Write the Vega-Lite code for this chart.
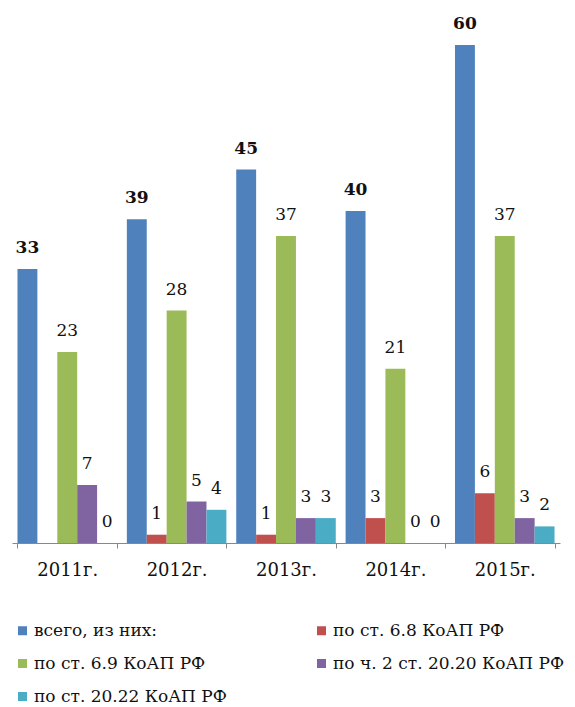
{
  "$schema": "https://vega.github.io/schema/vega-lite/v6.json",
  "width": 548,
  "height": 498,
  "autosize": {"type": "none"},
  "padding": {"left": 12, "top": 45, "right": 15, "bottom": 164},
  "background": "white",
  "config": {"view": {"stroke": null}, "font": "DejaVu Serif"},
  "data": {
    "values": [
      {"year": "2011г.", "series": "всего, из них:", "value": 33},
      {"year": "2011г.", "series": "по ст. 6.9 КоАП РФ", "value": 23},
      {"year": "2011г.", "series": "по ч. 2 ст. 20.20 КоАП РФ", "value": 7},
      {"year": "2011г.", "series": "по ст. 20.22 КоАП РФ", "value": 0},
      {"year": "2012г.", "series": "всего, из них:", "value": 39},
      {"year": "2012г.", "series": "по ст. 6.8 КоАП РФ", "value": 1},
      {"year": "2012г.", "series": "по ст. 6.9 КоАП РФ", "value": 28},
      {"year": "2012г.", "series": "по ч. 2 ст. 20.20 КоАП РФ", "value": 5},
      {"year": "2012г.", "series": "по ст. 20.22 КоАП РФ", "value": 4},
      {"year": "2013г.", "series": "всего, из них:", "value": 45},
      {"year": "2013г.", "series": "по ст. 6.8 КоАП РФ", "value": 1},
      {"year": "2013г.", "series": "по ст. 6.9 КоАП РФ", "value": 37},
      {"year": "2013г.", "series": "по ч. 2 ст. 20.20 КоАП РФ", "value": 3},
      {"year": "2013г.", "series": "по ст. 20.22 КоАП РФ", "value": 3},
      {"year": "2014г.", "series": "всего, из них:", "value": 40},
      {"year": "2014г.", "series": "по ст. 6.8 КоАП РФ", "value": 3},
      {"year": "2014г.", "series": "по ст. 6.9 КоАП РФ", "value": 21},
      {"year": "2014г.", "series": "по ч. 2 ст. 20.20 КоАП РФ", "value": 0},
      {"year": "2014г.", "series": "по ст. 20.22 КоАП РФ", "value": 0},
      {"year": "2015г.", "series": "всего, из них:", "value": 60},
      {"year": "2015г.", "series": "по ст. 6.8 КоАП РФ", "value": 6},
      {"year": "2015г.", "series": "по ст. 6.9 КоАП РФ", "value": 37},
      {"year": "2015г.", "series": "по ч. 2 ст. 20.20 КоАП РФ", "value": 3},
      {"year": "2015г.", "series": "по ст. 20.22 КоАП РФ", "value": 2}
    ]
  },
  "encoding": {
    "x": {
      "field": "year", "type": "nominal", "title": null,
      "scale": {"paddingInner": 0.09, "paddingOuter": 0.05},
      "axis": {
        "labelAngle": 0, "labelFont": "DejaVu Serif", "labelFontSize": 18,
        "labelColor": "#111", "labelPadding": 13, "tickBand": "extent",
        "domainColor": "#888", "tickColor": "#888", "tickSize": 5
      }
    },
    "xOffset": {
      "field": "series", "type": "nominal",
      "scale": {"domain": ["всего, из них:", "по ст. 6.8 КоАП РФ", "по ст. 6.9 КоАП РФ", "по ч. 2 ст. 20.20 КоАП РФ", "по ст. 20.22 КоАП РФ"], "paddingInner": 0, "paddingOuter": 0}
    },
    "y": {
      "field": "value", "type": "quantitative", "title": null,
      "scale": {"domain": [0, 60], "nice": false},
      "axis": null
    }
  },
  "layer": [
    {
      "mark": {"type": "bar"},
      "encoding": {
        "color": {
          "field": "series", "type": "nominal", "title": null,
          "scale": {
            "domain": ["всего, из них:", "по ст. 6.9 КоАП РФ", "по ст. 20.22 КоАП РФ", "по ст. 6.8 КоАП РФ", "по ч. 2 ст. 20.20 КоАП РФ"],
            "range": ["#4F81BD", "#9BBB59", "#4BACC6", "#C0504D", "#8064A2"]
          },
          "legend": {
            "orient": "none", "legendX": 2, "legendY": 577, "direction": "vertical",
            "columns": 2, "columnPadding": 86, "rowPadding": 15,
            "symbolType": "square", "symbolSize": 81, "symbolStrokeWidth": 0,
            "labelFont": "DejaVu Serif", "labelFontSize": 17, "labelColor": "#111",
            "labelOffset": 3, "labelLimit": 300
          }
        }
      }
    },
    {
      "transform": [{"filter": "datum.series !== 'всего, из них:'"}],
      "mark": {"type": "text", "baseline": "alphabetic", "dy": -16, "fontSize": 17, "font": "DejaVu Serif", "color": "#111"},
      "encoding": {
        "text": {"field": "value", "type": "quantitative"}
      }
    },
    {
      "transform": [{"filter": "datum.series === 'всего, из них:'"}],
      "mark": {"type": "text", "baseline": "alphabetic", "dy": -16, "fontSize": 17, "fontWeight": "bold", "font": "DejaVu Serif", "color": "#111"},
      "encoding": {
        "text": {"field": "value", "type": "quantitative"}
      }
    }
  ]
}
